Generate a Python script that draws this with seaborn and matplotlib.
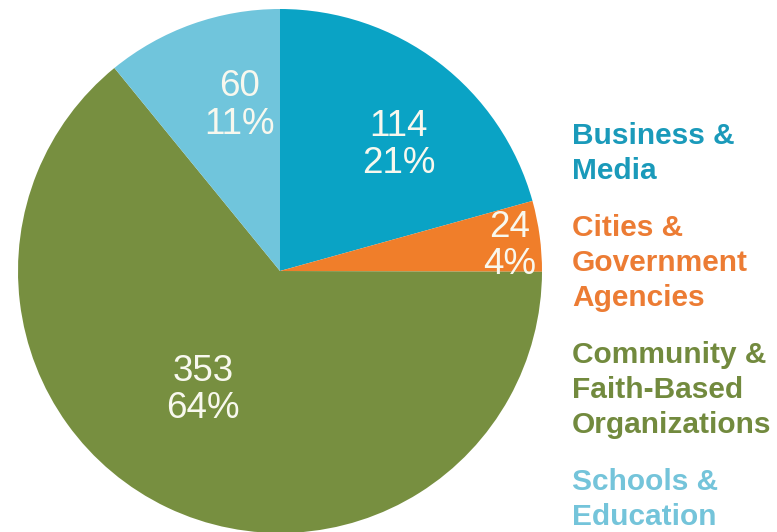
import numpy as np
import matplotlib
matplotlib.use("Agg")
import matplotlib.pyplot as plt
import seaborn as sns

# Partner counts by sector
categories = ["Business &\nMedia",
              "Cities &\nGovernment\nAgencies",
              "Community &\nFaith-Based\nOrganizations",
              "Schools &\nEducation"]
counts = [114, 24, 353, 60]
slice_colors = ["#0aa3c5", "#f07e2a", "#778f40", "#70c5dc"]
text_colors = ["#1a9aba", "#ec7c34", "#728a3e", "#74c4da"]

# label placement inside each wedge: (radius fraction, angular nudge in degrees)
label_radius = [0.66, 0.88, 0.54, 0.65]
label_nudge = [-6.0, -1.5, -7.5, -6.0]

sns.set_theme(style="white")
plt.rcParams["font.family"] = ["Liberation Sans", "DejaVu Sans"]

fig = plt.figure(figsize=(7.77, 5.32), dpi=100)
W, H = 777, 532
cx, cy, r = 280, 271, 262
ax = fig.add_axes([(cx - r) / W, (H - cy - r) / H, 2 * r / W, 2 * r / H])

wedges, _ = ax.pie(counts, colors=slice_colors, startangle=90, counterclock=False,
                   radius=1.0, wedgeprops=dict(linewidth=0))
ax.set_xlim(-1, 1)
ax.set_ylim(-1, 1)
ax.set_aspect("equal")
ax.axis("off")

total = sum(counts)
for w, n, rr, dn in zip(wedges, counts, label_radius, label_nudge):
    mid = np.deg2rad((w.theta1 + w.theta2) / 2 + dn)
    pct = round(100 * n / total)
    ax.text(rr * np.cos(mid), rr * np.sin(mid), f"{n}\n{pct}%",
            ha="center", va="center", color="#f8f8ee", fontsize=26.5,
            linespacing=1.08)

# Sector names to the right of the pie
line_step = 35 / H
group_gap = 57 / H
y = 1 - 136 / H
x = 572 / W
for label, col in zip(categories, text_colors):
    lines = label.split("\n")
    for i, line in enumerate(lines):
        fig.text(x, y - i * line_step, line, ha="left", va="center",
                 color=col, fontsize=21.5, fontweight="bold")
    y -= (len(lines) - 1) * line_step + group_gap

fig.savefig("out.png", dpi=100, facecolor="white")
